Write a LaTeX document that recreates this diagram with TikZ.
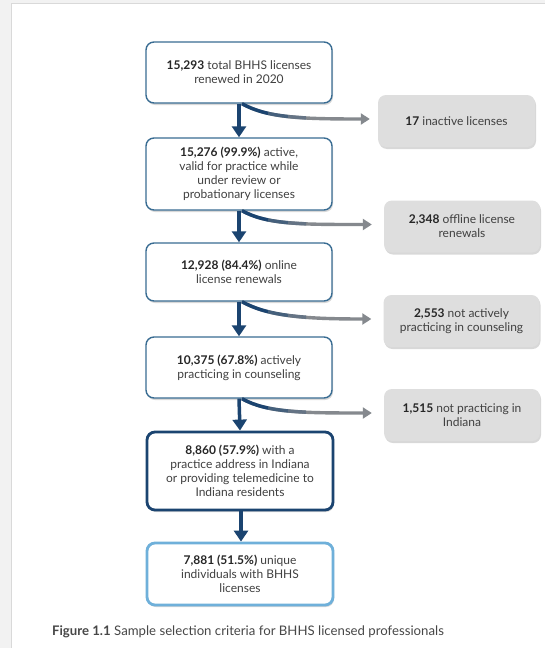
\documentclass[tikz,border=0pt]{standalone}
\usepackage{fontspec}
\setmainfont{Lato}
\usetikzlibrary{arrows.meta,shadows}
\definecolor{boxblue}{HTML}{3A6D93}
\definecolor{navy}{HTML}{1B4470}
\definecolor{lightblue}{HTML}{6FB0DA}
\definecolor{grayfill}{HTML}{DEDEDE}
\definecolor{txtgray}{HTML}{404040}
\definecolor{arrowgray}{HTML}{85898E}
\newcommand{\nm}[1]{\textbf{\color{black!85}#1}}
\newcommand{\outcurve}[3]{([xshift=3pt]#1.south) .. controls +(25,14) and +(-70,0) .. ([xshift=-#3pt,yshift=2pt]#2.west)}

\begin{document}
\begin{tikzpicture}[x=1pt,y=-1pt,
   font=\fontsize{12}{14}\selectfont, text=txtgray,
   mainbox/.style={draw=boxblue, line width=1.4pt, rounded corners=8pt, fill=white,
      minimum width=186pt, align=center, inner sep=2pt,
      drop shadow={shadow xshift=1pt,shadow yshift=-2pt,opacity=.3}},
   sidebox/.style={fill=grayfill, rounded corners=8pt, minimum width=156pt,
      minimum height=52pt, align=center, inner sep=2pt,
      drop shadow={shadow xshift=1pt,shadow yshift=-2pt,opacity=.3}},
   down/.style={draw=navy, line width=3.5pt, -{Triangle[width=14pt,length=11pt]}},
   outarr/.style={draw=arrowgray, line width=3.4pt, -{Triangle[width=11pt,length=9pt]}}]
   \useasboundingbox (0,0) rectangle (545,648);
   % frame
   \fill[black!5] (0,0) rectangle (545,648);
   \fill[white] (11,3) rectangle (545,648);
   \draw[black!15] (11,648) -- (11,3) -- (545,3);
   % main column
   \node[mainbox, minimum height=61pt] (b1) at (239,72.5)
      {\nm{15,293} total BHHS licenses\\renewed in 2020};
   \node[mainbox, minimum height=72pt] (b2) at (239,174)
      {\nm{15,276 (99.9\%)} active,\\valid for practice while\\under review or\\probationary licenses};
   \node[mainbox, minimum height=58pt] (b3) at (239,272)
      {\nm{12,928 (84.4\%)} online\\license renewals};
   \node[mainbox, minimum height=61pt] (b4) at (239,367.5)
      {\nm{10,375 (67.8\%)} actively\\practicing in counseling};
   \node[mainbox, draw=navy, line width=2.8pt, minimum height=78pt] (b5) at (240,471)
      {\nm{8,860 (57.9\%)} with a\\practice address in Indiana\\or providing telemedicine to\\Indiana residents};
   \node[mainbox, draw=lightblue, line width=2.8pt, minimum height=62pt] (b6) at (240,574)
      {\nm{7,881 (51.5\%)} unique\\individuals with BHHS\\licenses};
   % excluded
   \node[sidebox, minimum width=157pt] (g1) at (456.5,121) {\nm{17} inactive licenses};
   \node[sidebox] (g2) at (462,226.5) {\nm{2,348} offline license\\renewals};
   \node[sidebox] (g3) at (461.5,321) {\nm{2,553} not actively\\practicing in counseling};
   \node[sidebox] (g4) at (462,415) {\nm{1,515} not practicing in\\Indiana};
   % arrows
   \draw[down] (b1.south) -- (b2.north);
   \draw[down] (b2.south) -- (b3.north);
   \draw[down] (b3.south) -- (b4.north);
   \draw[down] (b4.south) -- (b5.north);
   \draw[down] ([xshift=1pt]b5.south) -- ([xshift=1pt]b6.north);
   \draw[outarr] \outcurve{b1}{g1}{8};
   \draw[outarr] \outcurve{b2}{g2}{12};
   \draw[outarr] \outcurve{b3}{g3}{12};
   \draw[outarr] \outcurve{b4}{g4}{12};
   % blue start of the side arrows
   \foreach \xa/\xb/\pc in {236/268/100, 268/288/60, 288/306/30}{
      \begin{scope}
         \clip (\xa,0) rectangle (\xb,648);
         \foreach \b/\g/\s in {b1/g1/8, b2/g2/12, b3/g3/12, b4/g4/12}
            \draw[navy!\pc!arrowgray, line width=3.4pt] \outcurve{\b}{\g}{\s};
      \end{scope}}
   % caption
   \node[font=\fontsize{13.2}{16}\selectfont, text=black!72] (cap) at (248,632)
      {\textbf{Figure 1.1} Sample selection criteria for BHHS licensed professionals};
\end{tikzpicture}
\end{document}
